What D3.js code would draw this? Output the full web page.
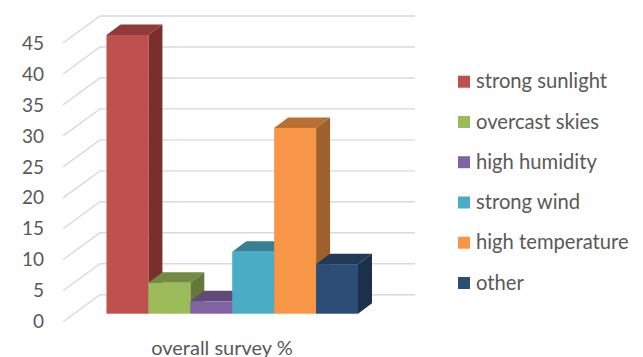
<!DOCTYPE html>
<html>
<head>
<meta charset="utf-8">
<script src="https://cdn.jsdelivr.net/npm/d3@7/dist/d3.min.js"></script>
<style>
html,body{margin:0;padding:0;background:#fff;}
svg{display:block;}
text{font-family:Lato,"Open Sans",sans-serif;fill:#595959;}
</style>
</head>
<body>
<svg id="chart" width="643" height="357"></svg>
<script>
// Survey results
const categories = ["strong sunlight","overcast skies","high humidity","strong wind","high temperature","other"];
const values = [45,5,2,10,30,8];
const axisTicks = [0,5,10,15,20,25,30,35,40,45];
const axisTitle = "overall survey %";
const frontColors = ["#C0504D","#9BBB59","#8064A2","#4BACC6","#F79646","#2C4D75"];
const topColors = ["#8E3B39","#728A42","#5F4A78","#378093","#B76F34","#203A57"];
const sideColors = ["#7A2F2E","#647839","#523F67","#307084","#9E602C","#1B3149"];

const svg = d3.select("#chart");

// Oblique projection of the 3D box
const depth = {dx:14, dy:-10.5};
const wall = {x0:63, x1:100, x2:415, frontDy:8, backDy:-19};

const y = d3.scaleLinear().domain([0,45]).range([313.7,35]);
const x = d3.scaleBand().domain(categories).range([106.5,358]).padding(0);

// Gridlines: floor-to-wall diagonal, then along the back wall
const grid = svg.append("g").attr("fill","none").attr("stroke","#D9D9D9").attr("stroke-width",1.4);
grid.selectAll("path").data(axisTicks).join("path")
  .attr("d", t => {
    const p = d3.path();
    p.moveTo(wall.x0, y(t)+wall.frontDy);
    p.lineTo(wall.x1, y(t)+wall.backDy);
    p.lineTo(wall.x2, y(t)+wall.backDy);
    return p.toString();
  });

// Axis labels
svg.append("g").selectAll("text").data(axisTicks).join("text")
  .attr("x",44).attr("y",t => y(t)+8)
  .attr("dy","0.35em").attr("text-anchor","end")
  .attr("font-size",19)
  .text(t => t);

// Bars are drawn in order, each with side, top and front faces
const bars = svg.append("g").selectAll("g").data(categories).join("g");
const poly = pts => pts.map(p => p.join(",")).join(" ");

bars.append("polygon")
  .attr("fill",(d,i) => sideColors[i])
  .attr("points",(d,i) => {
    const r = x(d)+x.bandwidth();
    return poly([[r,y(values[i])],[r+depth.dx,y(values[i])+depth.dy],[r+depth.dx,y(0)+depth.dy],[r,y(0)]]);
  });
bars.append("polygon")
  .attr("fill",(d,i) => topColors[i])
  .attr("points",(d,i) => {
    const l = x(d), r = l+x.bandwidth(), t = y(values[i]);
    return poly([[l,t],[l+depth.dx,t+depth.dy],[r+depth.dx,t+depth.dy],[r,t]]);
  });
bars.append("rect")
  .attr("fill",(d,i) => frontColors[i])
  .attr("x",d => x(d)).attr("width",x.bandwidth())
  .attr("y",(d,i) => y(values[i]))
  .attr("height",(d,i) => y(0)-y(values[i]));

// Category axis title
svg.append("text")
  .attr("x",222).attr("y",354.5).attr("text-anchor","middle")
  .attr("font-size",20)
  .text(axisTitle);

// Legend
const legendY = d3.scalePoint().domain(categories).range([81.7,283]);
const legend = svg.append("g").selectAll("g").data(categories).join("g")
  .attr("transform",d => `translate(458,${legendY(d)})`);
legend.append("rect")
  .attr("x",0).attr("y",-6).attr("width",12).attr("height",12)
  .attr("fill",(d,i) => frontColors[i]);
legend.append("text")
  .attr("x",18).attr("y",0).attr("dy","0.33em")
  .attr("font-size",20.2)
  .text(d => d);
</script>
</body>
</html>
